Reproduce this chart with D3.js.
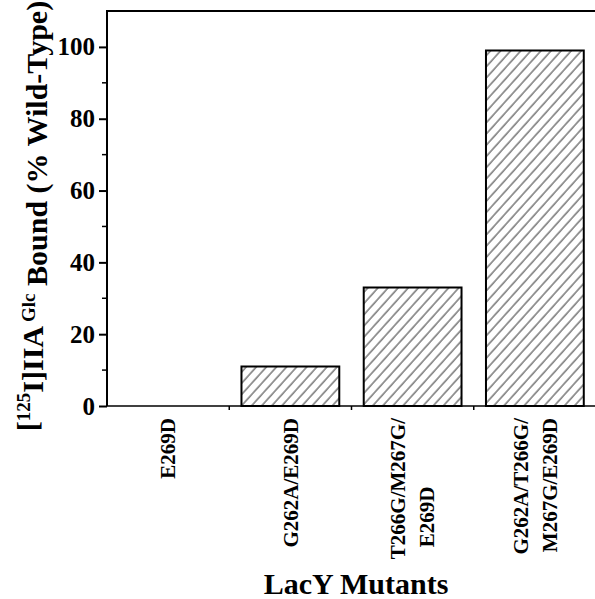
<!DOCTYPE html>
<html>
<head>
<meta charset="utf-8">
<script src="https://cdn.jsdelivr.net/npm/d3@7"></script>
<style>
  body { margin: 0; background: #fff; }
</style>
</head>
<body>
<div id="chart"></div>
<script>
(function() {
// data
const mutants = ['E269D', 'G262A/E269D', 'T266G/M267G/E269D', 'G262A/T266G/M267G/E269D'];
const labelLines = [['E269D'], ['G262A/E269D'], ['T266G/M267G/', 'E269D'], ['G262A/T266G/', 'M267G/E269D']];
const bound = [0, 11, 33, 99];
const yTicks = [0, 20, 40, 60, 80, 100];
const yMinor = [10, 30, 50, 70, 90];

const W = 595, H = 599;
const plotLeft = 107, plotRight = 596, plotTop = 11, plotBottom = 406;
const serif = '"Liberation Serif", "Times New Roman", serif';

const svg = d3.select('#chart').append('svg')
  .attr('width', W)
  .attr('height', H);

// hatch for bars
svg.append('defs').append('pattern')
  .attr('id', 'hatch')
  .attr('patternUnits', 'userSpaceOnUse')
  .attr('width', 7.5)
  .attr('height', 10)
  .attr('patternTransform', 'rotate(42)')
  .append('line')
  .attr('x1', 1).attr('y1', 0)
  .attr('x2', 1).attr('y2', 10)
  .attr('stroke', '#333')
  .attr('stroke-width', 1);

const x = d3.scaleBand().domain(mutants).range([plotLeft, plotRight]).paddingInner(0.2).paddingOuter(0.1);
const y = d3.scaleLinear().domain([0, 110]).range([plotBottom, plotTop]);

// bars
svg.selectAll('rect.bar')
  .data(mutants.map((m, i) => ({m, v: bound[i]})))
  .enter().append('rect')
  .attr('class', 'bar')
  .attr('x', d => x(d.m))
  .attr('y', d => y(d.v))
  .attr('width', x.bandwidth())
  .attr('height', d => y(0) - y(d.v))
  .attr('fill', 'url(#hatch)')
  .attr('stroke', '#000')
  .attr('stroke-width', 2)
  .style('display', d => d.v > 0 ? null : 'none');

// y axis
const yAxis = svg.append('g')
  .attr('transform', `translate(${plotLeft},0)`)
  .call(d3.axisLeft(y).tickValues(yTicks).tickSize(8).tickPadding(4).tickFormat(d3.format('d')));
yAxis.select('.domain').attr('stroke-width', 2).attr('d', `M0,${plotBottom}V${plotTop}`);
yAxis.selectAll('.tick line').attr('stroke-width', 2);
yAxis.selectAll('.tick text')
  .style('font-family', serif).style('font-weight', 'bold').style('font-size', '25px');

svg.append('g')
  .attr('transform', `translate(${plotLeft},0)`)
  .selectAll('line')
  .data(yMinor)
  .enter().append('line')
  .attr('x1', -5).attr('x2', 0)
  .attr('y1', d => y(d)).attr('y2', d => y(d))
  .attr('stroke', '#000').attr('stroke-width', 1.5);

// top frame line
svg.append('line')
  .attr('x1', plotLeft - 1).attr('x2', W)
  .attr('y1', plotTop).attr('y2', plotTop)
  .attr('stroke', '#000').attr('stroke-width', 2);

// x axis
const step = x.step();
const boundaries = mutants.map(m => x(m) - x.paddingInner() * step / 2).slice(1);
svg.append('line')
  .attr('x1', plotLeft).attr('x2', W)
  .attr('y1', plotBottom).attr('y2', plotBottom)
  .attr('stroke', '#000').attr('stroke-width', 1.5);
svg.selectAll('line.xtick')
  .data(boundaries)
  .enter().append('line')
  .attr('class', 'xtick')
  .attr('x1', d => d).attr('x2', d => d)
  .attr('y1', plotBottom).attr('y2', plotBottom + 4)
  .attr('stroke', '#000').attr('stroke-width', 1.5);

// category labels, rotated
const lab = svg.selectAll('g.xlab')
  .data(mutants)
  .enter().append('g')
  .attr('class', 'xlab')
  .attr('transform', d => `translate(${x(d) + x.bandwidth() / 2},418) rotate(-90)`);
lab.each(function(d, i) {
  const lines = labelLines[i];
  const g = d3.select(this);
  let firstLen = 0;
  lines.forEach((t, j) => {
    const off = (j - (lines.length - 1) / 2) * 29;
    const txt = g.append('text')
      .attr('x', 0)
      .attr('y', off)
      .attr('dy', '0.35em')
      .attr('text-anchor', 'end')
      .style('font-family', serif)
      .style('font-weight', 'bold')
      .style('font-size', '21px')
      .text(t);
    const len = txt.node().getComputedTextLength();
    if (j === 0) firstLen = len;
    else if (len < 0.6 * firstLen) {
      // short trailing line sits toward the middle of the first one
      txt.attr('text-anchor', 'middle').attr('x', -firstLen * 0.7);
    }
  });
});

// axis titles
svg.append('text')
  .attr('x', 356).attr('y', 594)
  .attr('text-anchor', 'middle')
  .style('font-family', serif)
  .style('font-weight', 'bold')
  .style('font-size', '30px')
  .text('LacY Mutants');

const yt = svg.append('text')
  .attr('transform', 'translate(38,216) rotate(-90)')
  .attr('text-anchor', 'middle')
  .style('font-family', serif)
  .style('font-weight', 'bold')
  .style('font-size', '30px');
yt.append('tspan').text('[');
yt.append('tspan').attr('dy', '-0.42em').style('font-size', '19px').text('125');
yt.append('tspan').attr('dy', '0.42em').text('I]IIA');
yt.append('tspan').attr('dy', '-0.42em').attr('dx', '4').style('font-size', '19px').text('Glc');
yt.append('tspan').attr('dy', '0.42em').text(' Bound (% Wild-Type)');
})();
</script>
</body>
</html>
